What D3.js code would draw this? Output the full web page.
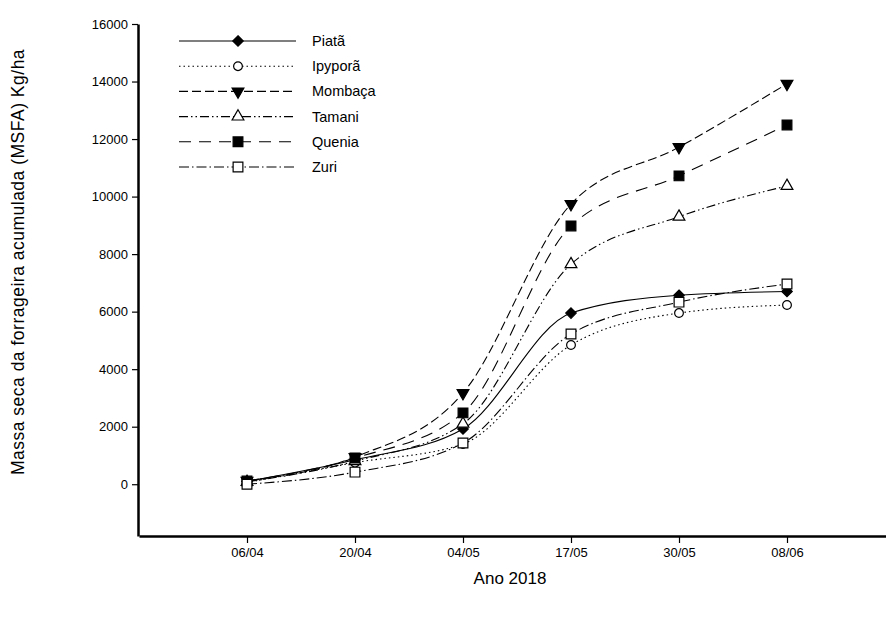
<!DOCTYPE html>
<html>
<head>
<meta charset="utf-8">
<script src="https://cdn.jsdelivr.net/npm/d3@7"></script>
<style>
  body { margin: 0; background: #fff; }
  svg { display: block; font-family: "Liberation Sans", Arial, sans-serif; }
</style>
</head>
<body>
<div id="chart"></div>
<script>
// dates on the x axis
const dates = ["06/04", "20/04", "04/05", "17/05", "30/05", "08/06"];
const yTicks = [0, 2000, 4000, 6000, 8000, 10000, 12000, 14000, 16000];

// kg/ha
const piata   = [100, 850, 1920, 5950, 6570, 6700];
const ipypora = [60, 750, 1400, 4840, 5950, 6230];
const mombaca = [120, 950, 3170, 9740, 11720, 13920];
const tamani  = [80, 800, 2100, 7650, 9300, 10370];
const quenia  = [110, 910, 2480, 8980, 10720, 12490];
const zuri    = [0, 420, 1430, 5220, 6330, 6960];

const names = ["Piatã", "Ipyporã", "Mombaça", "Tamani", "Quenia", "Zuri"];
const values = [piata, ipypora, mombaca, tamani, quenia, zuri];

// line style + marker for each series
const styles = [
    {dash: null,                     sym: d3.symbolDiamond2,  fill: "#000", rot: 0,   size: 70},
    {dash: "1.5,3",                  sym: d3.symbolCircle,    fill: "#fff", rot: 0,   size: 60},
    {dash: "9,4",                    sym: d3.symbolTriangle,  fill: "#000", rot: 180, size: 60},
    {dash: "9,3,1.5,3,1.5,3",        sym: d3.symbolTriangle,  fill: "#fff", rot: 0,   size: 60},
    {dash: "12,8",                   sym: d3.symbolSquare,    fill: "#000", rot: 0,   size: 95},
    {dash: "10,3,1.5,3",             sym: d3.symbolSquare,    fill: "#fff", rot: 0,   size: 95}
];

const width = 886, height = 619;

const svg = d3.select("#chart").append("svg")
    .attr("width", width)
    .attr("height", height);

const x = d3.scaleLinear().domain([-1, 6]).range([139, 895]);
const y = d3.scaleLinear().domain([-1800, 16000]).range([536, 24]);

// axes
let yAxis = svg.append("g")
    .attr("transform", "translate(138,0)")
    .call(d3.axisLeft(y).tickValues(yTicks).tickSize(6).tickSizeOuter(0).tickFormat(d3.format("d")));
let xAxis = svg.append("g")
    .attr("transform", "translate(0,536)")
    .call(d3.axisBottom(x).tickValues(d3.range(dates.length)).tickSize(7).tickSizeOuter(0)
        .tickFormat(function(i) { return dates[i]; }));

[yAxis, xAxis].forEach(function(a) {
    a.select(".domain").attr("stroke-width", 2.5);
    a.selectAll(".tick line").attr("stroke-width", 1.2);
    a.selectAll("text").attr("font-size", 13).attr("fill", "#000");
});
yAxis.selectAll("text").attr("x", -10);
xAxis.selectAll("text").attr("y", 12);

// axis titles
svg.append("text")
    .attr("x", 510).attr("y", 584)
    .attr("text-anchor", "middle")
    .attr("font-size", 17)
    .text("Ano 2018");

svg.append("text")
    .attr("transform", "translate(24,262) rotate(-90)")
    .attr("text-anchor", "middle")
    .attr("font-size", 17.5)
    .attr("letter-spacing", 0.5)
    .text("Massa seca da forrageira acumulada (MSFA) Kg/ha");

const line = d3.line()
    .x(function(d, i) { return x(i); })
    .y(function(d) { return y(d); })
    .curve(d3.curveMonotoneX);

function marker(g, s, cx, cy) {
    g.append("path")
        .attr("d", d3.symbol().type(s.sym).size(s.size)())
        .attr("transform", "translate(" + cx + "," + cy + ") rotate(" + s.rot + ")")
        .attr("fill", s.fill)
        .attr("stroke", "#000")
        .attr("stroke-width", 1.2);
}

values.forEach(function(vals, k) {
    let s = styles[k];
    let g = svg.append("g");
    g.append("path")
        .attr("d", line(vals))
        .attr("fill", "none")
        .attr("stroke", "#000")
        .attr("stroke-width", 1.1)
        .attr("stroke-dasharray", s.dash);
    vals.forEach(function(v, i) {
        marker(g, s, x(i), y(v));
    });
});

// legend
const legend = svg.append("g");
names.forEach(function(n, k) {
    let s = styles[k];
    let ly = 41 + k * 25.2;
    legend.append("line")
        .attr("x1", 179).attr("x2", 296)
        .attr("y1", ly).attr("y2", ly)
        .attr("stroke", "#000")
        .attr("stroke-width", 1.1)
        .attr("stroke-dasharray", s.dash);
    marker(legend, s, 238, ly);
    legend.append("text")
        .attr("x", 312).attr("y", ly + 5)
        .attr("font-size", 14.5)
        .text(n);
});
</script>
</body>
</html>
